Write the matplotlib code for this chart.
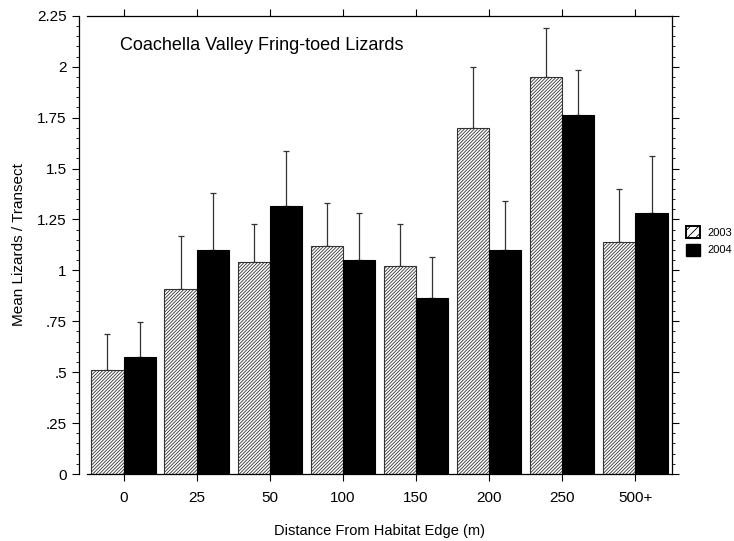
"""
Coachella Valley fringe-toed lizards: mean per transect by distance from edge.
"""
import numpy as np
import matplotlib.pyplot as plt
from matplotlib.ticker import MultipleLocator, FixedLocator
from matplotlib.patches import Patch

plt.rcParams['font.family'] = ['Liberation Sans', 'DejaVu Sans']
plt.rcParams['hatch.linewidth'] = 0.6

#%% data
distances = ['0', '25', '50', '100', '150', '200', '250', '500+']
mean_2003 = [0.51, 0.91, 1.04, 1.12, 1.02, 1.70, 1.95, 1.14]
err_2003 = [0.18, 0.26, 0.19, 0.21, 0.21, 0.30, 0.24, 0.26]
mean_2004 = [0.575, 1.10, 1.315, 1.05, 0.865, 1.10, 1.765, 1.28]
err_2004 = [0.17, 0.28, 0.27, 0.23, 0.20, 0.24, 0.22, 0.28]

#%% plot
fig = plt.figure(figsize=(7.34, 5.41), dpi=100)
ax = fig.add_axes([0.1185, 0.1238, 0.797, 0.847])

x = np.arange(len(distances))
w = 0.44

ax.bar(x - w / 2, mean_2003, w, color='white', edgecolor='#333333',
       hatch='//////////', linewidth=0.8, zorder=2)
ax.bar(x + w / 2, mean_2004, w, color='black', edgecolor='black',
       linewidth=0.8, zorder=2)

# one-sided error bars (upper only)
ax.errorbar(x - w / 2, mean_2003, yerr=[np.zeros(len(x)), err_2003], fmt='none',
            ecolor='#333333', elinewidth=0.9, capsize=2.5, capthick=0.9, zorder=1)
ax.errorbar(x + w / 2, mean_2004, yerr=[np.zeros(len(x)), err_2004], fmt='none',
            ecolor='#333333', elinewidth=0.9, capsize=2.5, capthick=0.9, zorder=1)

ax.set_xlim(-0.5, len(x) - 0.5)
ax.set_ylim(0, 2.25)
ax.set_xticks(x)
ax.set_xticklabels(distances)

yt = [0, 0.25, 0.5, 0.75, 1, 1.25, 1.5, 1.75, 2, 2.25]
ax.yaxis.set_major_locator(FixedLocator(yt))
ax.set_yticklabels(['0', '.25', '.5', '.75', '1', '1.25', '1.5', '1.75', '2', '2.25'])
ax.yaxis.set_minor_locator(MultipleLocator(0.05))

ax.tick_params(axis='both', which='major', direction='out', labelsize=11, length=5,
               width=0.8, top=True, right=True, labeltop=False, labelright=False)
ax.tick_params(axis='y', which='minor', direction='out', length=2.5, width=0.6,
               right=True)
ax.tick_params(axis='x', which='major', pad=7)

ax.spines['left'].set_position(('outward', 6))
for s in ax.spines.values():
    s.set_linewidth(0.9)

ax.set_xlabel('Distance From Habitat Edge (m)', fontsize=10.5, labelpad=14)
ax.set_ylabel('Mean Lizards / Transect', fontsize=11, labelpad=8)

ax.text(0.056, 0.935, 'Coachella Valley Fring-toed Lizards', transform=ax.transAxes,
        fontsize=13, va='center', ha='left')

# legend sits outside the frame, right at the figure edge
handles = [Patch(facecolor='white', edgecolor='black', hatch='////', linewidth=1.4),
           Patch(facecolor='black', edgecolor='black')]
fig.legend(handles, ['2003', '2004'], loc='upper left',
           bbox_to_anchor=(686 / 734, (541 - 226) / 541),
           frameon=False, fontsize=8, handlelength=1.25, handleheight=1.3,
           handletextpad=0.7, labelspacing=0.5, borderaxespad=0, borderpad=0)

fig.savefig('out.png', dpi=100)
